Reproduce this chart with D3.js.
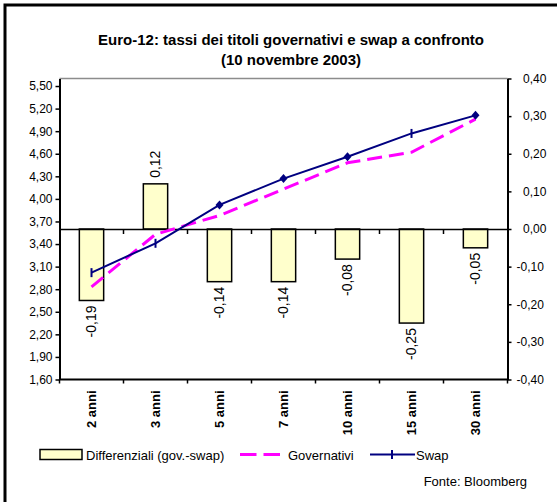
<!DOCTYPE html>
<html>
<head>
<meta charset="utf-8">
<script src="https://cdn.jsdelivr.net/npm/d3@7"></script>
<style>
  html, body { margin: 0; padding: 0; background: #fff; }
  svg { display: block; font-family: "Liberation Sans", Arial, sans-serif; }
</style>
</head>
<body>
<svg id="chart" width="557" height="502"></svg>
<script>
// Scadenze
const categories = ["2 anni", "3 anni", "5 anni", "7 anni", "10 anni", "15 anni", "30 anni"];
// Differenziali governativi - swap (asse destro)
const differenziali = [-0.19, 0.12, -0.14, -0.14, -0.08, -0.25, -0.05];
// Rendimenti (asse sinistro)
const governativi = [2.83, 3.53, 3.78, 4.13, 4.48, 4.62, 5.06];
const swap = [3.02, 3.41, 3.92, 4.27, 4.56, 4.87, 5.11];
// Etichette degli assi
const leftTicks = [1.60, 1.90, 2.20, 2.50, 2.80, 3.10, 3.40, 3.70, 4.00, 4.30, 4.60, 4.90, 5.20, 5.50];
const rightTicks = [-0.40, -0.30, -0.20, -0.10, 0.00, 0.10, 0.20, 0.30, 0.40];

const titleLines = ["Euro-12: tassi dei titoli governativi e swap a confronto", "(10 novembre 2003)"];
const legendLabels = ["Differenziali (gov.-swap)", "Governativi", "Swap"];
const sourceNote = "Fonte: Bloomberg";

const it = d3.formatLocale({ decimal: ",", thousands: ".", grouping: [3], currency: ["", " €"], minus: "-" });
const fmt = it.format(".2f");

const svg = d3.select("#chart");
const plot = { left: 59.5, right: 507.5, top: 78.5, bottom: 379.5 };

const x = d3.scaleBand().domain(categories).range([plot.left, plot.right]).padding(0);
const yL = d3.scaleLinear().domain([1.6, 5.6]).range([plot.bottom, plot.top]);
const yR = d3.scaleLinear().domain([-0.4, 0.4]).range([plot.bottom, plot.top]);
const cx = c => x(c) + x.bandwidth() / 2;

// cornice esterna
svg.append("rect").attr("x", 5).attr("y", 5).attr("width", 570).attr("height", 520)
  .attr("fill", "none").attr("stroke", "#000").attr("stroke-width", 3);

// titolo
svg.append("g").selectAll("text").data(titleLines).join("text")
  .attr("x", 291).attr("y", (d, i) => 44.5 + i * 20)
  .attr("text-anchor", "middle").attr("font-size", 15).attr("font-weight", "bold")
  .text(d => d);

// bordo superiore dell'area del grafico
svg.append("line").attr("x1", plot.left).attr("x2", plot.right)
  .attr("y1", plot.top).attr("y2", plot.top)
  .attr("stroke", "#8c8c8c").attr("stroke-width", 1.5);

// barre dei differenziali
const barW = x.bandwidth() * 0.38;
svg.append("g").selectAll("rect").data(categories).join("rect")
  .attr("x", c => cx(c) - barW / 2)
  .attr("width", barW)
  .attr("y", (c, i) => Math.min(yR(differenziali[i]), yR(0)))
  .attr("height", (c, i) => Math.abs(yR(differenziali[i]) - yR(0)))
  .attr("fill", "#FFFFCC").attr("stroke", "#000").attr("stroke-width", 1.5);

// etichette dei valori delle barre
svg.append("g").selectAll("text").data(categories).join("text")
  .attr("transform", (c, i) => {
    const v = differenziali[i];
    const yy = v < 0 ? yR(v) + 5 : yR(v) - 6;
    return `translate(${cx(c)},${yy}) rotate(-90)`;
  })
  .attr("text-anchor", (c, i) => differenziali[i] < 0 ? "end" : "start")
  .attr("dy", "0.35em").attr("font-size", 14)
  .text((c, i) => fmt(differenziali[i]));

// linea dello zero con tacche di categoria
svg.append("g").attr("transform", `translate(0,${yR(0)})`)
  .call(d3.axisBottom(x).tickValues([]).tickSizeOuter(0))
  .call(g => g.select(".domain").attr("stroke", "#000").attr("stroke-width", 1.5))
  .call(g => g.selectAll(".sep").data(d3.range(1, categories.length)).join("line")
    .attr("class", "sep").attr("x1", i => plot.left + i * x.step()).attr("x2", i => plot.left + i * x.step())
    .attr("y1", 0).attr("y2", 5).attr("stroke", "#000").attr("stroke-width", 1.5));

// asse delle categorie in basso
const xAxis = svg.append("g").attr("transform", `translate(0,${plot.bottom})`);
xAxis.append("line").attr("x1", plot.left).attr("x2", plot.right).attr("stroke", "#000").attr("stroke-width", 2);
xAxis.selectAll(".sep").data(d3.range(0, categories.length + 1)).join("line")
  .attr("class", "sep").attr("x1", i => plot.left + i * x.step()).attr("x2", i => plot.left + i * x.step())
  .attr("y1", 0).attr("y2", 4).attr("stroke", "#000").attr("stroke-width", 1.5);
xAxis.selectAll("text").data(categories).join("text")
  .attr("transform", c => `translate(${cx(c)},11) rotate(-90)`)
  .attr("text-anchor", "end").attr("dy", "0.35em")
  .attr("font-size", 13).attr("font-weight", "bold")
  .text(c => c);

// asse sinistro
svg.append("g").attr("transform", `translate(${plot.left},0)`)
  .call(d3.axisLeft(yL).tickValues(leftTicks).tickSize(4).tickSizeOuter(0).tickPadding(3).tickFormat(fmt))
  .call(g => g.select(".domain").attr("stroke-width", 2))
  .call(g => g.selectAll(".tick line").attr("stroke-width", 1.5))
  .call(g => g.selectAll("text").attr("font-size", 12).attr("font-family", null).attr("fill", "#000"));

// asse destro
svg.append("g").attr("transform", `translate(${plot.right},0)`)
  .call(d3.axisRight(yR).tickValues(rightTicks).tickSize(4).tickSizeOuter(0).tickPadding(5).tickFormat(fmt))
  .call(g => g.select(".domain").attr("stroke-width", 2))
  .call(g => g.selectAll(".tick line").attr("stroke-width", 1.5))
  .call(g => g.selectAll("text").attr("font-size", 12).attr("font-family", null).attr("fill", "#000")
    .attr("dx", d => d >= 0 ? 6.5 : 0));

// linea dei rendimenti governativi
const lineGov = d3.line().x((d, i) => cx(categories[i])).y(d => yL(d));
svg.append("path").datum(governativi).attr("d", lineGov)
  .attr("fill", "none").attr("stroke", "#FF00FF").attr("stroke-width", 3)
  .attr("stroke-dasharray", "15,7");

// linea dei tassi swap con marcatori
const lineSwap = d3.line().x((d, i) => cx(categories[i])).y(d => yL(d));
svg.append("path").datum(swap).attr("d", lineSwap)
  .attr("fill", "none").attr("stroke", "#000080").attr("stroke-width", 2);

const diamondAt = new Set(["5 anni", "7 anni", "10 anni", "30 anni"]);
const markers = svg.append("g").selectAll("g").data(swap).join("g")
  .attr("transform", (d, i) => `translate(${cx(categories[i])},${yL(d)})`);
markers.filter((d, i) => diamondAt.has(categories[i])).append("path")
  .attr("d", "M0,-4.5L4,0L0,4.5L-4,0Z").attr("fill", "#000080");
markers.filter((d, i) => !diamondAt.has(categories[i])).append("line")
  .attr("y1", -4.5).attr("y2", 4.5).attr("stroke", "#000080").attr("stroke-width", 2);

// legenda
const lg = svg.append("g").attr("font-size", 13);
lg.append("rect").attr("x", 40).attr("y", 449.5).attr("width", 42).attr("height", 10)
  .attr("fill", "#FFFFCC").attr("stroke", "#000").attr("stroke-width", 1.5);
lg.append("text").attr("x", 86).attr("y", 459.5).text(legendLabels[0]);
lg.append("line").attr("x1", 240).attr("x2", 281).attr("y1", 454.5).attr("y2", 454.5)
  .attr("stroke", "#FF00FF").attr("stroke-width", 3).attr("stroke-dasharray", "16.5,7");
lg.append("text").attr("x", 288).attr("y", 459.5).text(legendLabels[1]);
lg.append("line").attr("x1", 370).attr("x2", 415).attr("y1", 454.5).attr("y2", 454.5)
  .attr("stroke", "#000080").attr("stroke-width", 2);
lg.append("line").attr("x1", 392).attr("x2", 392).attr("y1", 450).attr("y2", 459)
  .attr("stroke", "#000080").attr("stroke-width", 2);
lg.append("text").attr("x", 416).attr("y", 459.5).text(legendLabels[2]);

// fonte
svg.append("text").attr("x", 527).attr("y", 486).attr("text-anchor", "end")
  .attr("font-size", 13).text(sourceNote);
</script>
</body>
</html>
